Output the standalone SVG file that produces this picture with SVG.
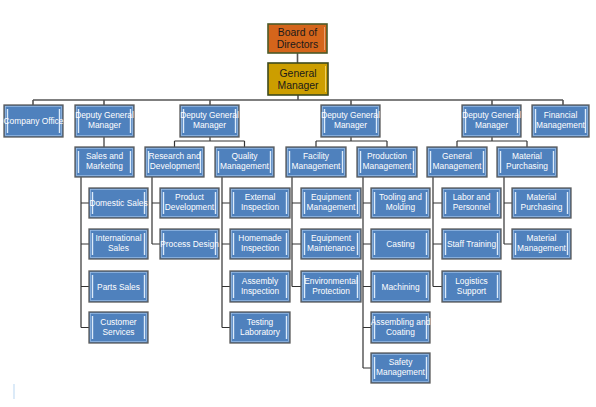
<svg xmlns="http://www.w3.org/2000/svg" width="596" height="407" viewBox="0 0 596 407">
<style>
.b rect.o{fill:#4F81BD;stroke:#5B5B5B;stroke-width:1.3}
.b rect.i{fill:none;stroke:#9EC0E8;stroke-width:0.7}
.b line{stroke:#DCEBFA;stroke-width:1.4}
.b text{font-family:"Liberation Sans",Arial,sans-serif;font-size:8.4px;fill:#FFFFFF;text-anchor:middle}
.top text{font-family:"Liberation Sans",Arial,sans-serif;font-size:10.4px;fill:#1A1A1A;text-anchor:middle}
.c{stroke:#333333;stroke-width:1.2;fill:none}
.c2{stroke:#555555;stroke-width:1.6;fill:none}
</style>
<rect width="596" height="407" fill="#FFFFFF"/>
<g id="connectors">
<path class="c2" d="M297.5 53V63"/>
<path class="c2" d="M298 95V100M33 100H563M33 100V105M104 100V105M210 100V105M351 100V105M492 100V105M563 100V105"/>
<path class="c" d="M104 137V147"/>
<path class="c" d="M210 137V141M174.5 141H244.5M174.5 141V147M244.5 141V147"/>
<path class="c" d="M351 137V141M316 141H387M316 141V147M387 141V147"/>
<path class="c" d="M492 137V141M457 141H527M457 141V147M527 141V147"/>
<path class="c" d="M81 177V327.5M81 203H89M81 244H89M81 286.5H89M81 327.5H89"/>
<path class="c" d="M152 177V244M152 203H160M152 244H160"/>
<path class="c" d="M222 177V327.5M222 203H230M222 244H230M222 286.5H230M222 327.5H230"/>
<path class="c" d="M292 177V286.5M292 203H301M292 244H301M292 286.5H301"/>
<path class="c" d="M363 177V368M363 203H371M363 244H371M363 286.5H371M363 327.5H371M363 368H371"/>
<path class="c" d="M433 177V286.5M433 203H442M433 244H442M433 286.5H442"/>
<path class="c" d="M504 177V244M504 203H512M504 244H512"/>
</g>
<g id="board" class="top">
<rect x="268" y="24" width="59" height="29" fill="#D4651B" stroke="#4C5A28" stroke-width="1.6"/>
<line x1="324.5" y1="27" x2="324.5" y2="50" stroke="#E9A070" stroke-width="1"/>
<text x="297.5" y="36">Board of</text><text x="297.5" y="47.5">Directors</text>
</g>
<g id="gm" class="top">
<rect x="268" y="63" width="60" height="32" fill="#CC9E00" stroke="#3E4A1E" stroke-width="1.6"/>
<line x1="325.5" y1="66" x2="325.5" y2="92" stroke="#F0D060" stroke-width="1"/>
<text x="298" y="77">General</text><text x="298" y="89">Manager</text>
</g>
<g id="company-office" class="b"><rect class="o" x="4" y="105" width="59" height="32"/><rect class="i" x="5.5" y="106.5" width="56" height="29"/><line x1="7.5" y1="109" x2="7.5" y2="133"/><line x1="59.5" y1="109" x2="59.5" y2="133"/><text x="33.5" y="124">Company Office</text></g>
<g id="dgm1" class="b"><rect class="o" x="75" y="105" width="59" height="32"/><rect class="i" x="76.5" y="106.5" width="56" height="29"/><line x1="78.5" y1="109" x2="78.5" y2="133"/><line x1="130.5" y1="109" x2="130.5" y2="133"/><text x="104.5" y="118">Deputy General</text><text x="104.5" y="128">Manager</text></g>
<g id="dgm2" class="b"><rect class="o" x="180" y="105" width="59" height="32"/><rect class="i" x="181.5" y="106.5" width="56" height="29"/><line x1="183.5" y1="109" x2="183.5" y2="133"/><line x1="235.5" y1="109" x2="235.5" y2="133"/><text x="209.5" y="118">Deputy General</text><text x="209.5" y="128">Manager</text></g>
<g id="dgm3" class="b"><rect class="o" x="321" y="105" width="59" height="32"/><rect class="i" x="322.5" y="106.5" width="56" height="29"/><line x1="324.5" y1="109" x2="324.5" y2="133"/><line x1="376.5" y1="109" x2="376.5" y2="133"/><text x="350.5" y="118">Deputy General</text><text x="350.5" y="128">Manager</text></g>
<g id="dgm4" class="b"><rect class="o" x="462" y="105" width="59" height="32"/><rect class="i" x="463.5" y="106.5" width="56" height="29"/><line x1="465.5" y1="109" x2="465.5" y2="133"/><line x1="517.5" y1="109" x2="517.5" y2="133"/><text x="491.5" y="118">Deputy General</text><text x="491.5" y="128">Manager</text></g>
<g id="financial" class="b"><rect class="o" x="532" y="105" width="57" height="32"/><rect class="i" x="533.5" y="106.5" width="54" height="29"/><line x1="535.5" y1="109" x2="535.5" y2="133"/><line x1="585.5" y1="109" x2="585.5" y2="133"/><text x="560.5" y="118">Financial</text><text x="560.5" y="128">Management</text></g>
<g id="sales" class="b"><rect class="o" x="75" y="147" width="59" height="30"/><rect class="i" x="76.5" y="148.5" width="56" height="27"/><line x1="78.5" y1="151" x2="78.5" y2="173"/><line x1="130.5" y1="151" x2="130.5" y2="173"/><text x="104.5" y="159">Sales and</text><text x="104.5" y="169">Marketing</text></g>
<g id="rnd" class="b"><rect class="o" x="145" y="147" width="59" height="30"/><rect class="i" x="146.5" y="148.5" width="56" height="27"/><line x1="148.5" y1="151" x2="148.5" y2="173"/><line x1="200.5" y1="151" x2="200.5" y2="173"/><text x="174.5" y="159">Research and</text><text x="174.5" y="169">Development</text></g>
<g id="quality" class="b"><rect class="o" x="215" y="147" width="59" height="30"/><rect class="i" x="216.5" y="148.5" width="56" height="27"/><line x1="218.5" y1="151" x2="218.5" y2="173"/><line x1="270.5" y1="151" x2="270.5" y2="173"/><text x="244.5" y="159">Quality</text><text x="244.5" y="169">Management</text></g>
<g id="facility" class="b"><rect class="o" x="286" y="147" width="60" height="30"/><rect class="i" x="287.5" y="148.5" width="57" height="27"/><line x1="289.5" y1="151" x2="289.5" y2="173"/><line x1="342.5" y1="151" x2="342.5" y2="173"/><text x="316" y="159">Facility</text><text x="316" y="169">Management</text></g>
<g id="production" class="b"><rect class="o" x="357" y="147" width="60" height="30"/><rect class="i" x="358.5" y="148.5" width="57" height="27"/><line x1="360.5" y1="151" x2="360.5" y2="173"/><line x1="413.5" y1="151" x2="413.5" y2="173"/><text x="387" y="159">Production</text><text x="387" y="169">Management</text></g>
<g id="general-mgmt" class="b"><rect class="o" x="427" y="147" width="60" height="30"/><rect class="i" x="428.5" y="148.5" width="57" height="27"/><line x1="430.5" y1="151" x2="430.5" y2="173"/><line x1="483.5" y1="151" x2="483.5" y2="173"/><text x="457" y="159">General</text><text x="457" y="169">Management</text></g>
<g id="material-purchasing-dept" class="b"><rect class="o" x="497" y="147" width="60" height="30"/><rect class="i" x="498.5" y="148.5" width="57" height="27"/><line x1="500.5" y1="151" x2="500.5" y2="173"/><line x1="553.5" y1="151" x2="553.5" y2="173"/><text x="527" y="159">Material</text><text x="527" y="169">Purchasing</text></g>
<g id="domestic-sales" class="b"><rect class="o" x="89" y="188" width="59" height="30"/><rect class="i" x="90.5" y="189.5" width="56" height="27"/><line x1="92.5" y1="192" x2="92.5" y2="214"/><line x1="144.5" y1="192" x2="144.5" y2="214"/><text x="118.5" y="206">Domestic Sales</text></g>
<g id="international-sales" class="b"><rect class="o" x="89" y="229" width="59" height="30"/><rect class="i" x="90.5" y="230.5" width="56" height="27"/><line x1="92.5" y1="233" x2="92.5" y2="255"/><line x1="144.5" y1="233" x2="144.5" y2="255"/><text x="118.5" y="241">International</text><text x="118.5" y="251">Sales</text></g>
<g id="parts-sales" class="b"><rect class="o" x="89" y="271" width="59" height="31"/><rect class="i" x="90.5" y="272.5" width="56" height="28"/><line x1="92.5" y1="275" x2="92.5" y2="298"/><line x1="144.5" y1="275" x2="144.5" y2="298"/><text x="118.5" y="289.5">Parts Sales</text></g>
<g id="customer-services" class="b"><rect class="o" x="89" y="312" width="59" height="31"/><rect class="i" x="90.5" y="313.5" width="56" height="28"/><line x1="92.5" y1="316" x2="92.5" y2="339"/><line x1="144.5" y1="316" x2="144.5" y2="339"/><text x="118.5" y="325">Customer</text><text x="118.5" y="335">Services</text></g>
<g id="product-development" class="b"><rect class="o" x="160" y="188" width="59" height="30"/><rect class="i" x="161.5" y="189.5" width="56" height="27"/><line x1="163.5" y1="192" x2="163.5" y2="214"/><line x1="215.5" y1="192" x2="215.5" y2="214"/><text x="189.5" y="200">Product</text><text x="189.5" y="210">Development</text></g>
<g id="process-design" class="b"><rect class="o" x="160" y="229" width="59" height="30"/><rect class="i" x="161.5" y="230.5" width="56" height="27"/><line x1="163.5" y1="233" x2="163.5" y2="255"/><line x1="215.5" y1="233" x2="215.5" y2="255"/><text x="189.5" y="247">Process Design</text></g>
<g id="external-inspection" class="b"><rect class="o" x="230" y="188" width="60" height="30"/><rect class="i" x="231.5" y="189.5" width="57" height="27"/><line x1="233.5" y1="192" x2="233.5" y2="214"/><line x1="286.5" y1="192" x2="286.5" y2="214"/><text x="260" y="200">External</text><text x="260" y="210">Inspection</text></g>
<g id="homemade-inspection" class="b"><rect class="o" x="230" y="229" width="60" height="30"/><rect class="i" x="231.5" y="230.5" width="57" height="27"/><line x1="233.5" y1="233" x2="233.5" y2="255"/><line x1="286.5" y1="233" x2="286.5" y2="255"/><text x="260" y="241">Homemade</text><text x="260" y="251">Inspection</text></g>
<g id="assembly-inspection" class="b"><rect class="o" x="230" y="271" width="60" height="31"/><rect class="i" x="231.5" y="272.5" width="57" height="28"/><line x1="233.5" y1="275" x2="233.5" y2="298"/><line x1="286.5" y1="275" x2="286.5" y2="298"/><text x="260" y="284">Assembly</text><text x="260" y="294">Inspection</text></g>
<g id="testing-laboratory" class="b"><rect class="o" x="230" y="312" width="60" height="31"/><rect class="i" x="231.5" y="313.5" width="57" height="28"/><line x1="233.5" y1="316" x2="233.5" y2="339"/><line x1="286.5" y1="316" x2="286.5" y2="339"/><text x="260" y="325">Testing</text><text x="260" y="335">Laboratory</text></g>
<g id="equipment-management" class="b"><rect class="o" x="301" y="188" width="60" height="30"/><rect class="i" x="302.5" y="189.5" width="57" height="27"/><line x1="304.5" y1="192" x2="304.5" y2="214"/><line x1="357.5" y1="192" x2="357.5" y2="214"/><text x="331" y="200">Equipment</text><text x="331" y="210">Management</text></g>
<g id="equipment-maintenance" class="b"><rect class="o" x="301" y="229" width="60" height="30"/><rect class="i" x="302.5" y="230.5" width="57" height="27"/><line x1="304.5" y1="233" x2="304.5" y2="255"/><line x1="357.5" y1="233" x2="357.5" y2="255"/><text x="331" y="241">Equipment</text><text x="331" y="251">Maintenance</text></g>
<g id="environmental-protection" class="b"><rect class="o" x="301" y="271" width="60" height="31"/><rect class="i" x="302.5" y="272.5" width="57" height="28"/><line x1="304.5" y1="275" x2="304.5" y2="298"/><line x1="357.5" y1="275" x2="357.5" y2="298"/><text x="331" y="284">Environmental</text><text x="331" y="294">Protection</text></g>
<g id="tooling-molding" class="b"><rect class="o" x="371" y="188" width="59" height="30"/><rect class="i" x="372.5" y="189.5" width="56" height="27"/><line x1="374.5" y1="192" x2="374.5" y2="214"/><line x1="426.5" y1="192" x2="426.5" y2="214"/><text x="400.5" y="200">Tooling and</text><text x="400.5" y="210">Molding</text></g>
<g id="casting" class="b"><rect class="o" x="371" y="229" width="59" height="30"/><rect class="i" x="372.5" y="230.5" width="56" height="27"/><line x1="374.5" y1="233" x2="374.5" y2="255"/><line x1="426.5" y1="233" x2="426.5" y2="255"/><text x="400.5" y="247">Casting</text></g>
<g id="machining" class="b"><rect class="o" x="371" y="271" width="59" height="31"/><rect class="i" x="372.5" y="272.5" width="56" height="28"/><line x1="374.5" y1="275" x2="374.5" y2="298"/><line x1="426.5" y1="275" x2="426.5" y2="298"/><text x="400.5" y="289.5">Machining</text></g>
<g id="assembling-coating" class="b"><rect class="o" x="371" y="312" width="59" height="31"/><rect class="i" x="372.5" y="313.5" width="56" height="28"/><line x1="374.5" y1="316" x2="374.5" y2="339"/><line x1="426.5" y1="316" x2="426.5" y2="339"/><text x="400.5" y="325">Assembling and</text><text x="400.5" y="335">Coating</text></g>
<g id="safety-management" class="b"><rect class="o" x="371" y="353" width="59" height="30"/><rect class="i" x="372.5" y="354.5" width="56" height="27"/><line x1="374.5" y1="357" x2="374.5" y2="379"/><line x1="426.5" y1="357" x2="426.5" y2="379"/><text x="400.5" y="365">Safety</text><text x="400.5" y="375">Management</text></g>
<g id="labor-personnel" class="b"><rect class="o" x="442" y="188" width="59" height="30"/><rect class="i" x="443.5" y="189.5" width="56" height="27"/><line x1="445.5" y1="192" x2="445.5" y2="214"/><line x1="497.5" y1="192" x2="497.5" y2="214"/><text x="471.5" y="200">Labor and</text><text x="471.5" y="210">Personnel</text></g>
<g id="staff-training" class="b"><rect class="o" x="442" y="229" width="59" height="30"/><rect class="i" x="443.5" y="230.5" width="56" height="27"/><line x1="445.5" y1="233" x2="445.5" y2="255"/><line x1="497.5" y1="233" x2="497.5" y2="255"/><text x="471.5" y="247">Staff Training</text></g>
<g id="logistics-support" class="b"><rect class="o" x="442" y="271" width="59" height="31"/><rect class="i" x="443.5" y="272.5" width="56" height="28"/><line x1="445.5" y1="275" x2="445.5" y2="298"/><line x1="497.5" y1="275" x2="497.5" y2="298"/><text x="471.5" y="284">Logistics</text><text x="471.5" y="294">Support</text></g>
<g id="material-purchasing" class="b"><rect class="o" x="512" y="188" width="59" height="30"/><rect class="i" x="513.5" y="189.5" width="56" height="27"/><line x1="515.5" y1="192" x2="515.5" y2="214"/><line x1="567.5" y1="192" x2="567.5" y2="214"/><text x="541.5" y="200">Material</text><text x="541.5" y="210">Purchasing</text></g>
<g id="material-management" class="b"><rect class="o" x="512" y="229" width="59" height="30"/><rect class="i" x="513.5" y="230.5" width="56" height="27"/><line x1="515.5" y1="233" x2="515.5" y2="255"/><line x1="567.5" y1="233" x2="567.5" y2="255"/><text x="541.5" y="241">Material</text><text x="541.5" y="251">Management</text></g>
<line x1="14" y1="384" x2="14" y2="399" stroke="#C5DDF3" stroke-width="1.2"/>
</svg>
